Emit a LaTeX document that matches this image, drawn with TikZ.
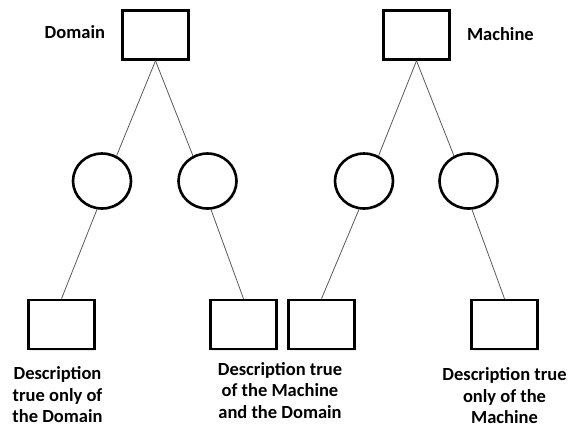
\documentclass[tikz,border=0pt]{standalone}
\usepackage{fontspec}
\setmainfont{Carlito}
\usetikzlibrary{shapes.geometric, positioning, shadows}

\begin{document}
\begin{tikzpicture}[
    x=1pt, y=-1pt,
    box/.style={rectangle, draw=black, fill=white, line width=2.6pt,
                minimum width=66pt, minimum height=49pt, inner sep=0pt,
                drop shadow={opacity=0.18, shadow xshift=1.5pt, shadow yshift=-1.5pt}},
    part/.style={ellipse, draw=black, fill=white, line width=2.6pt,
                 minimum width=58pt, minimum height=55pt, inner sep=0pt,
                 drop shadow={opacity=0.18, shadow xshift=1.5pt, shadow yshift=-1.5pt}},
    link/.style={draw=black!65, line width=0.8pt},
    title/.style={font=\bfseries\fontsize{18.5}{22}\selectfont, inner sep=0pt},
    desc/.style={font=\bfseries\fontsize{18.5}{21.5}\selectfont, align=center, inner sep=0pt},
]
\useasboundingbox (0,0) rectangle (571,429);

% Top boxes
\node[box] (domain) at (155.5,35) {};
\node[box] (machine) at (416.5,35) {};
\node[title, left=16pt of domain, yshift=3pt] (domainlbl) {Domain};
\node[title, right=16pt of machine, yshift=1pt] (machinelbl) {Machine};

% Middle ellipses
\node[part] (d1) at (102,181) {};
\node[part] (d2) at (207.5,181) {};
\node[part] (m1) at (364,181) {};
\node[part] (m2) at (468.5,181) {};

% Bottom boxes
\node[box] (onlyd) at (61.5,324.5) {};
\node[box] (shared1) at (243.5,324.5) {};
\node[box] (shared2) at (321.5,324.5) {};
\node[box] (onlym) at (504.5,324.5) {};

% Descriptions
\node[desc, below=16pt of onlyd, xshift=-4pt] (onlydtxt)
      {Description\\true only of\\the Domain};
\node[desc, anchor=north] (sharedtxt) at (280,362)
      {Description true\\of the Machine\\and the Domain};
\node[desc, below=17pt of onlym] (onlymtxt)
      {Description true\\only of the\\Machine};

% Connectors
\draw[link] (domain.south) -- (d1.60);
\draw[link] (domain.south) -- (d2.120);
\draw[link] (machine.south) -- (m1.60);
\draw[link] (machine.south) -- (m2.120);
\draw[link] (d1.-100) -- (onlyd.north);
\draw[link] (d2.-83) -- (shared1.north);
\draw[link] (m1.-100) -- (shared2.north);
\draw[link] (m2.-83) -- (onlym.north);

\end{tikzpicture}
\end{document}
